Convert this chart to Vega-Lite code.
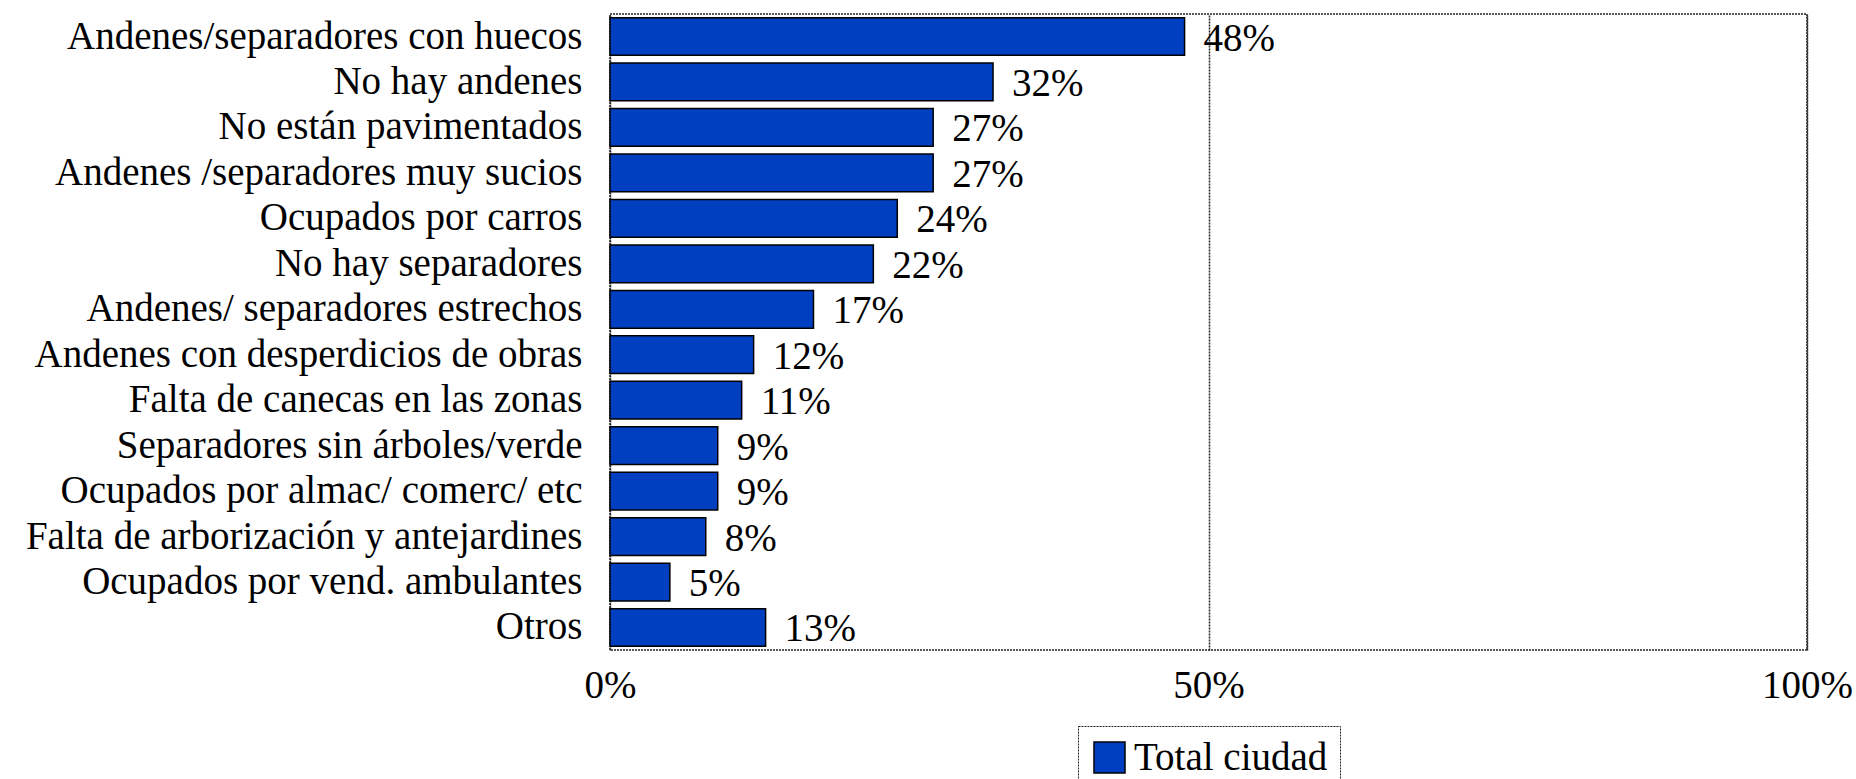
{
  "$schema": "https://vega.github.io/schema/vega-lite/v6.json",
  "autosize": {"type": "none"},
  "width": 1197,
  "height": 636,
  "padding": {"left": 610, "top": 14, "right": 49, "bottom": 129},
  "background": "white",
  "config": {
    "font": "Liberation Serif",
    "view": {"stroke": "#222", "strokeDash": [2, 1], "strokeWidth": 1.5},
    "legend": {"strokeColor": "#222", "strokeDash": [2, 1]}
  },
  "data": {
    "values": [
      {"categoria": "Andenes/separadores con huecos", "valor": 0.48, "serie": "Total ciudad"},
      {"categoria": "No hay andenes", "valor": 0.32, "serie": "Total ciudad"},
      {"categoria": "No están pavimentados", "valor": 0.27, "serie": "Total ciudad"},
      {"categoria": "Andenes /separadores muy sucios", "valor": 0.27, "serie": "Total ciudad"},
      {"categoria": "Ocupados por carros", "valor": 0.24, "serie": "Total ciudad"},
      {"categoria": "No hay separadores", "valor": 0.22, "serie": "Total ciudad"},
      {"categoria": "Andenes/ separadores estrechos", "valor": 0.17, "serie": "Total ciudad"},
      {"categoria": "Andenes con desperdicios de obras", "valor": 0.12, "serie": "Total ciudad"},
      {"categoria": "Falta de canecas en las zonas", "valor": 0.11, "serie": "Total ciudad"},
      {"categoria": "Separadores sin árboles/verde", "valor": 0.09, "serie": "Total ciudad"},
      {"categoria": "Ocupados por almac/ comerc/ etc", "valor": 0.09, "serie": "Total ciudad"},
      {"categoria": "Falta de arborización y antejardines", "valor": 0.08, "serie": "Total ciudad"},
      {"categoria": "Ocupados por vend. ambulantes", "valor": 0.05, "serie": "Total ciudad"},
      {"categoria": "Otros", "valor": 0.13, "serie": "Total ciudad"}
    ]
  },
  "encoding": {
    "y": {
      "field": "categoria",
      "type": "nominal",
      "sort": null,
      "scale": {"paddingInner": 0.17, "paddingOuter": 0.08},
      "axis": {
        "title": null,
        "domain": false,
        "ticks": false,
        "labelFont": "Liberation Serif",
        "labelFontSize": 39,
        "labelColor": "#000",
        "labelPadding": 28,
        "labelLimit": 0
      }
    },
    "x": {
      "field": "valor",
      "type": "quantitative",
      "scale": {"domain": [0, 1], "nice": false},
      "axis": {
        "title": null,
        "values": [0, 0.5, 1],
        "format": ".0%",
        "domain": false,
        "ticks": false,
        "grid": true,
        "gridColor": "#222",
        "gridDash": [2, 1],
        "gridWidth": 1.5,
        "gridOpacity": 1,
        "labelFont": "Liberation Serif",
        "labelFontSize": 39,
        "labelColor": "#000",
        "labelPadding": 16,
        "labelFlush": false
      }
    }
  },
  "layer": [
    {
      "mark": {"type": "bar", "stroke": "#000", "strokeWidth": 1.5},
      "encoding": {
        "color": {
          "field": "serie",
          "type": "nominal",
          "scale": {"range": ["#0040C0"]},
          "legend": {
            "title": null,
            "orient": "none",
            "legendX": 468,
            "legendY": 712,
            "direction": "horizontal",
            "symbolType": "square",
            "symbolSize": 961,
            "symbolStrokeColor": "#000",
            "symbolStrokeWidth": 1.5,
            "symbolOpacity": 1,
            "labelFont": "Liberation Serif",
            "labelFontSize": 39,
            "labelColor": "#000",
            "labelOffset": 5,
            "labelLimit": 0,
            "padding": 12
          }
        }
      }
    },
    {
      "mark": {
        "type": "text",
        "align": "left",
        "baseline": "middle",
        "dx": 19,
        "dy": 2,
        "font": "Liberation Serif",
        "fontSize": 39,
        "color": "#000"
      },
      "encoding": {
        "text": {"field": "valor", "type": "quantitative", "format": ".0%"}
      }
    }
  ]
}
